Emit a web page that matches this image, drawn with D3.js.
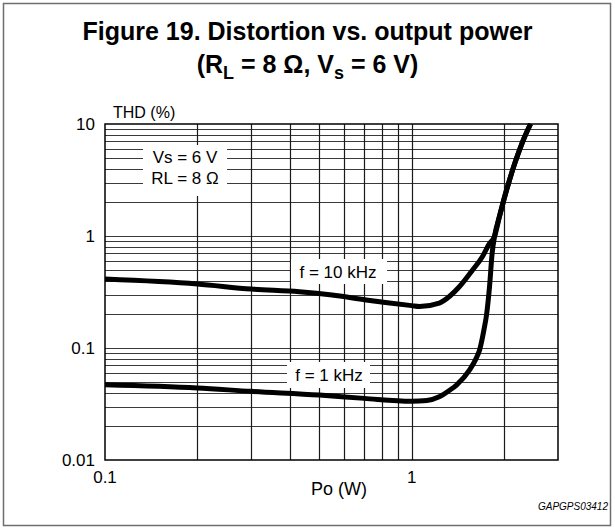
<!DOCTYPE html>
<html><head><meta charset="utf-8">
<script src="https://cdn.jsdelivr.net/npm/d3@7/dist/d3.min.js"></script>
<style>body{margin:0;background:#fff}svg{display:block}text{font-family:"Liberation Sans",Arial,sans-serif}</style>
</head><body>
<script>
// Data
const power1k = [0.1,0.2,0.3,0.5,0.7,1.0,1.12,1.23,1.33,1.40,1.545,1.62,1.665,1.72,1.754,1.794,1.83,1.864,1.935,2.009,2.085,2.165,2.248,2.334,2.441];
const thd1k   = [0.047,0.044,0.041,0.038,0.0355,0.0335,0.034,0.0367,0.042,0.0467,0.0637,0.08,0.096,0.145,0.197,0.352,0.705,1.0,1.509,2.23,3.16,4.39,5.87,7.65,10];
const power10k = [0.1,0.2,0.3,0.43,0.55,0.71,1.0,1.06,1.23,1.33,1.43,1.58,1.70,1.79,1.864,1.935,2.009,2.085,2.165,2.248,2.334,2.441];
const thd10k   = [0.413,0.373,0.336,0.318,0.297,0.268,0.239,0.235,0.252,0.29,0.352,0.497,0.653,0.85,1.0,1.509,2.23,3.16,4.39,5.87,7.65,10];
const xTickLabels = [0.1, 1];
const yTickLabels = [10, 1, 0.1, 0.01];
const xGrid = [0.2,0.3,0.4,0.5,0.6,0.7,0.8,0.9,1,2];
const yGrid = [];
[0.01,0.1,1].forEach(d=>{for(let k=1;k<=9;k++){const v=+(d*k).toPrecision(2); if(v>0.01&&v<10) yGrid.push(v);}});

const W=615,H=530;
const svg=d3.select("body").append("svg").attr("width",W).attr("height",H);
svg.append("rect").attr("x",3.5).attr("y",3.5).attr("width",607).attr("height",522)
  .attr("fill","#fff").attr("stroke","#6e6e6e").attr("stroke-width",1.5);

// Title
svg.append("text").attr("x",307.5).attr("y",40).attr("text-anchor","middle")
  .attr("font-size",25).attr("font-weight","bold").text("Figure 19. Distortion vs. output power");
const t2=svg.append("text").attr("x",307.5).attr("y",73).attr("text-anchor","middle")
  .attr("font-size",25).attr("font-weight","bold");
t2.append("tspan").text("(R");
t2.append("tspan").attr("font-size",18).attr("dy",6).text("L");
t2.append("tspan").attr("dy",-6).text(" = 8 Ω, V");
t2.append("tspan").attr("font-size",18).attr("dy",6).text("s");
t2.append("tspan").attr("dy",-6).text(" = 6 V)");

const x=d3.scaleLog().domain([0.1,3]).range([105,558]);
const y=d3.scaleLog().domain([0.01,10]).range([460,124]);

const g=svg.append("g");
// grid
g.selectAll(".hg").data(yGrid).join("line")
  .attr("x1",x(0.1)).attr("x2",x(3)).attr("y1",d=>Math.round(y(d))+0.5).attr("y2",d=>Math.round(y(d))+0.5)
  .attr("stroke","#3a3a3a").attr("stroke-width",1.2);
g.selectAll(".vg").data(xGrid).join("line")
  .attr("y1",y(0.01)).attr("y2",y(10)).attr("x1",d=>Math.round(x(d))+0.5).attr("x2",d=>Math.round(x(d))+0.5)
  .attr("stroke","#1a1a1a").attr("stroke-width",1.2);

// white label boxes
function box(x0,y0,x1,y1){svg.append("rect").attr("x",x0).attr("y",y0).attr("width",x1-x0).attr("height",y1-y0).attr("fill","#fff");}
box(143,145,227,196);
box(291,259,387,284);
box(287,362,370,388);

// axes frame
svg.append("rect").attr("x",x(0.1)).attr("y",y(10)).attr("width",x(3)-x(0.1)).attr("height",y(0.01)-y(10))
  .attr("fill","none").attr("stroke","#000").attr("stroke-width",1.5);

// curves
const line=d3.line().x(d=>x(d[0])).y(d=>y(d[1])).curve(d3.curveMonotoneX);
svg.append("clipPath").attr("id","c").append("rect").attr("x",x(0.1)).attr("y",y(10)-3).attr("width",x(3)-x(0.1)).attr("height",y(0.01)-y(10)+3);
[[power1k,thd1k],[power10k,thd10k]].forEach(([p,t])=>{
  svg.append("path").datum(p.map((v,i)=>[v,t[i]])).attr("d",line).attr("fill","none")
    .attr("stroke","#000").attr("stroke-width",5).attr("stroke-linejoin","round").attr("clip-path","url(#c)");
});

// tick labels
svg.selectAll(".yl").data(yTickLabels).join("text").attr("x",95).attr("y",d=>y(d)+6)
  .attr("text-anchor","end").attr("font-size",17).text(d=>d);
svg.selectAll(".xl").data(xTickLabels).join("text").attr("x",d=>x(d)).attr("y",483)
  .attr("text-anchor","middle").attr("font-size",17).text(d=>d);

svg.append("text").attr("x",113).attr("y",118).attr("font-size",16).text("THD (%)");
svg.append("text").attr("x",339).attr("y",495).attr("text-anchor","middle").attr("font-size",18).text("Po (W)");
svg.append("text").attr("x",185).attr("y",163).attr("text-anchor","middle").attr("font-size",17).text("Vs = 6 V");
svg.append("text").attr("x",185).attr("y",184).attr("text-anchor","middle").attr("font-size",17).text("RL = 8 Ω");
svg.append("text").attr("x",338).attr("y",278).attr("text-anchor","middle").attr("font-size",17).text("f = 10 kHz");
svg.append("text").attr("x",329).attr("y",381).attr("text-anchor","middle").attr("font-size",17).text("f = 1 kHz");
svg.append("text").attr("x",608).attr("y",510).attr("text-anchor","end").attr("font-size",10).attr("font-style","italic").text("GAPGPS03412");
</script>
</body></html>
